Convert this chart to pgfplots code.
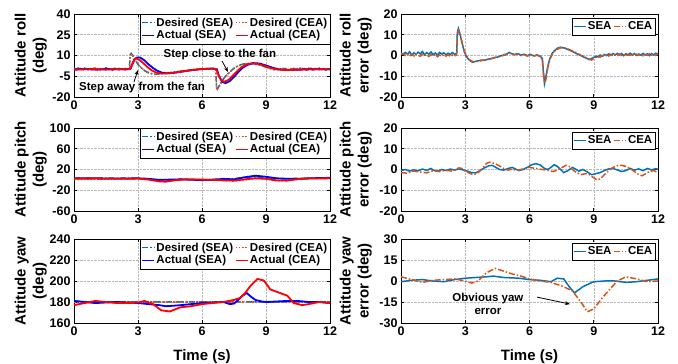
\documentclass[border=0pt]{standalone}
\usepackage{fontspec}
\setmainfont{Liberation Sans}
\usepackage{pgfplots}
\pgfplotsset{compat=1.18}
\usetikzlibrary{arrows.meta}
\definecolor{mblue}{RGB}{0,114,189}
\definecolor{morange}{RGB}{217,83,25}
\newcommand{\tfont}{\bfseries\fontsize{12.5}{14}\selectfont}
\newcommand{\lfont}{\bfseries\fontsize{15}{18}\selectfont}
\newcommand{\gfont}{\bfseries\fontsize{11.5}{13}\selectfont}
\tikzset{
  dsea/.style={draw=mblue, line width=1.5pt, dash pattern=on 6pt off 2pt on 1.5pt off 2pt},
  dcea/.style={draw=morange, line width=1.5pt, dash pattern=on 1.5pt off 1.8pt},
  asea/.style={draw=blue, line width=1.8pt},
  acea/.style={draw=red, line width=1.8pt},
  esea/.style={draw=mblue, line width=1.5pt},
  ecea/.style={draw=morange, line width=1.5pt, dash pattern=on 6pt off 2pt on 1.5pt off 2pt},
}
\pgfplotsset{
  base/.style={
    scale only axis, xmin=0, xmax=12, xtick={0,3,6,9,12},
    grid=major, grid style={densely dotted, gray!55, line width=0.5pt},
    axis line style={black, line width=0.8pt},
    tick style={black, line width=0.6pt}, major tick length=3pt,
    tick label style={font=\tfont},
    /pgf/number format/assume math mode=true,
    ylabel style={font=\lfont, align=center, inner sep=0pt, anchor=south},
    legend style={font=\gfont, draw=black, inner xsep=1pt, inner ysep=1.5pt,
      row sep=-1pt, column sep=0pt, cells={anchor=west},
      nodes={inner xsep=1.5pt}},
    legend image code/.code={\draw[#1] (0pt,0pt) -- (12pt,0pt);},
  },
  lcol/.style={base, width=256pt, ylabel style={at={(axis description cs:-0.1055,0.5)}},
    legend columns=2, legend style={at={(1,1)}, anchor=north east}},
  rcol/.style={base, width=257pt, ylabel style={at={(axis description cs:-0.113,0.5)}},
    legend columns=2, legend style={at={(1,1)}, anchor=north east, xshift=-3pt, yshift=-4pt}},
}
\begin{document}
\begin{tikzpicture}
\useasboundingbox (0,0) rectangle (678pt,364pt);
% ---------------- Roll ----------------
\begin{axis}[lcol, at={(74pt,267pt)}, anchor=south west, height=83pt,
  ymin=-20, ymax=40, ytick={-20,-5,10,25,40}, ylabel={Attitude roll\\(deg)}]
\addplot[dsea] coordinates {(0,0.8)(0.1,-0.3)(0.2,1.0)(0.3,0.2)(0.4,-0.5)(0.5,0.9)(0.6,0.1)(0.7,-0.6)(0.8,0.7)(0.9,1.2)(1.0,-0.2)(1.1,0.5)(1.2,-0.8)(1.3,0.6)(1.4,0.0)(1.5,1.1)(1.6,-0.4)(1.7,0.3)(1.8,-0.7)(1.9,0.8)(2.0,0.2)(2.1,-0.5)(2.2,0.9)(2.3,-0.1)(2.4,0.6)(2.5,-0.4)(2.6,0.3)(2.63,10.5)(2.68,11.5)(2.75,10)(2.8,8.5)(2.9,6)(3.0,3.5)(3.1,1.8)(3.2,0.5)(3.3,-0.8)(3.4,-1.8)(3.5,-2.5)(3.6,-3.0)(3.7,-3.5)(3.8,-3.6)(3.9,-3.4)(4.0,-3.3)(4.2,-3.0)(4.4,-2.6)(4.6,-2.3)(4.8,-1.9)(5.0,-1.4)(5.2,-1.0)(5.4,-0.6)(5.6,-0.3)(5.8,0.0)(6.0,0.3)(6.2,0.4)(6.4,0.5)(6.6,0.4)(6.65,0)(6.68,-13.5)(6.72,-14)(6.8,-12)(6.9,-9.5)(7.0,-7)(7.1,-5)(7.2,-3.5)(7.3,-2)(7.4,-0.5)(7.5,0.8)(7.6,1.8)(7.7,2.6)(7.8,3.2)(7.9,3.7)(8.0,4.0)(8.2,4.3)(8.4,4.2)(8.6,3.6)(8.8,2.6)(9.0,1.5)(9.2,0.5)(9.4,-0.3)(9.5,0.5)(9.6,-0.8)(9.7,0.3)(9.8,-0.5)(9.9,0.6)(10.0,-0.3)(10.1,0.4)(10.2,-0.6)(10.3,0.7)(10.4,0.0)(10.5,-0.7)(10.6,0.9)(10.7,-0.2)(10.8,0.5)(10.9,-0.6)(11.0,0.8)(11.1,0.1)(11.2,-0.5)(11.3,0.6)(11.4,-0.3)(11.5,0.9)(11.6,-0.2)(11.7,0.4)(11.8,-0.6)(11.9,0.5)(12.0,0.2)};
\addlegendentry{Desired (SEA)}
\addplot[dcea] coordinates {(0,0.3)(0.1,0.9)(0.2,-0.4)(0.3,0.6)(0.4,0.1)(0.5,-0.7)(0.6,0.8)(0.7,0.3)(0.8,-0.4)(0.9,0.5)(1.0,0.9)(1.1,-0.6)(1.2,0.4)(1.3,-0.2)(1.4,0.8)(1.5,-0.5)(1.6,0.6)(1.7,-0.3)(1.8,0.7)(1.9,-0.6)(2.0,0.5)(2.1,0.8)(2.2,-0.3)(2.3,0.6)(2.4,-0.5)(2.5,0.4)(2.6,0.1)(2.63,9.8)(2.68,11)(2.75,10.2)(2.8,8.8)(2.9,6.2)(3.0,3.8)(3.1,2)(3.2,0.6)(3.3,-0.7)(3.4,-1.7)(3.5,-2.4)(3.6,-3.0)(3.7,-3.3)(3.8,-3.5)(3.9,-3.5)(4.0,-3.2)(4.2,-2.9)(4.4,-2.5)(4.6,-2.1)(4.8,-1.7)(5.0,-1.3)(5.2,-0.9)(5.4,-0.5)(5.6,-0.2)(5.8,0.1)(6.0,0.3)(6.2,0.5)(6.4,0.4)(6.6,0.5)(6.65,0.2)(6.68,-12.5)(6.72,-14.5)(6.8,-12.5)(6.9,-9.8)(7.0,-7.3)(7.1,-5.2)(7.2,-3.6)(7.3,-2.1)(7.4,-0.7)(7.5,0.6)(7.6,1.7)(7.7,2.5)(7.8,3.1)(7.9,3.6)(8.0,3.9)(8.2,4.2)(8.4,4.1)(8.6,3.7)(8.8,2.8)(9.0,1.7)(9.2,0.7)(9.4,0.1)(9.5,-0.6)(9.6,0.6)(9.7,-0.4)(9.8,0.7)(9.9,-0.5)(10.0,0.4)(10.1,-0.7)(10.2,0.5)(10.3,-0.2)(10.4,0.8)(10.5,0.2)(10.6,-0.5)(10.7,0.7)(10.8,-0.6)(10.9,0.4)(11.0,-0.3)(11.1,0.8)(11.2,0.2)(11.3,-0.6)(11.4,0.6)(11.5,-0.3)(11.6,0.7)(11.7,-0.5)(11.8,0.5)(11.9,-0.2)(12.0,0.4)};
\addlegendentry{Desired (CEA)}
\addplot[asea] coordinates {(0,0)(0.5,0.3)(1,-0.2)(1.5,0.2)(2,0)(2.5,0.1)(2.65,0.5)(2.75,4)(2.85,7.5)(2.95,8.5)(3.1,8.5)(3.3,6.5)(3.5,3.5)(3.7,1)(3.9,-1)(4.1,-2.3)(4.3,-2.8)(4.6,-2.7)(5.0,-1.8)(5.5,-0.6)(6.0,0.2)(6.5,0.6)(6.7,0)(6.8,-5)(6.95,-9)(7.1,-10)(7.3,-8.5)(7.5,-5.5)(7.7,-2)(7.9,1)(8.1,3)(8.4,4.5)(8.7,4.2)(9.0,2.8)(9.3,1.2)(9.6,0)(10,-0.5)(10.5,-0.2)(11,0.2)(11.5,0)(12,0.1)};
\addlegendentry{Actual (SEA)}
\addplot[acea] coordinates {(0,-0.3)(0.5,0)(1,0.2)(1.5,-0.2)(2,0.1)(2.5,0)(2.65,0.4)(2.72,3.5)(2.82,7)(2.92,7.8)(3.05,7)(3.25,4.5)(3.45,1.5)(3.65,-0.8)(3.85,-2.3)(4.1,-3)(4.4,-2.9)(4.8,-2.2)(5.2,-1.3)(5.6,-0.4)(6.0,0.2)(6.5,0.5)(6.68,0)(6.78,-4.5)(6.9,-8)(7.05,-9)(7.25,-7.5)(7.45,-4.5)(7.65,-1.3)(7.85,1.5)(8.05,3.3)(8.3,4.3)(8.6,4.0)(8.9,2.6)(9.2,1.0)(9.5,0)(9.9,-0.5)(10.5,-0.3)(11,0)(11.5,0.1)(12,0)};
\addlegendentry{Actual (CEA)}
\node[font=\gfont, inner sep=0pt] at (axis cs:6.84,10.6) {Step close to the fan};
\draw[-{Stealth[length=5pt,width=4pt]}, line width=0.8pt] (axis cs:6.94,6) -- (axis cs:7.22,-1.9);
\node[font=\gfont, inner sep=0pt] at (axis cs:3.19,-13.5) {Step away from the fan};
\draw[-{Stealth[length=5pt,width=4pt]}, line width=0.8pt] (axis cs:2.81,-9.2) -- (axis cs:3.0,-0.5);
\end{axis}
\begin{axis}[rcol, at={(401pt,267pt)}, anchor=south west, height=83pt,
  ymin=-20, ymax=20, ytick={-20,-10,0,10,20}, ylabel={Attitude roll\\error (deg)}]
\addplot[esea] coordinates {(0,1.2)(0.1,0.4)(0.2,1.5)(0.3,0.6)(0.4,1.8)(0.5,0.2)(0.6,1.3)(0.7,0.5)(0.8,1.6)(0.9,0.8)(1.0,1.9)(1.1,0.3)(1.2,1.4)(1.3,0.6)(1.4,1.7)(1.5,0.4)(1.6,1.2)(1.7,0.2)(1.8,1.5)(1.9,0.7)(2.0,1.3)(2.1,0.3)(2.2,1.1)(2.3,0.5)(2.4,1.4)(2.5,0.6)(2.6,0.9)(2.63,11)(2.68,13)(2.75,10.5)(2.85,6)(2.95,2)(3.05,-0.5)(3.15,-1.8)(3.25,-2.7)(3.35,-3.3)(3.45,-2.9)(3.6,-2.6)(3.75,-2.2)(3.9,-2.4)(4.05,-1.8)(4.2,-1.6)(4.35,-1.0)(4.5,-0.8)(4.65,-0.2)(4.8,0.3)(4.95,0.8)(5.05,1.5)(5.15,0.9)(5.3,0.5)(5.45,0.9)(5.6,0.2)(5.75,0.6)(5.9,0.0)(6.05,0.5)(6.2,-0.2)(6.35,0.3)(6.5,-0.3)(6.6,-1.5)(6.65,-8)(6.7,-13.5)(6.75,-11)(6.85,-5.5)(6.95,-1.5)(7.05,0.8)(7.15,2.2)(7.3,3.5)(7.45,4)(7.6,3.6)(7.75,3.1)(7.9,2.4)(8.05,1.7)(8.2,0.9)(8.35,0.2)(8.5,-0.6)(8.65,-1.3)(8.8,-2.0)(8.9,-1.4)(9.0,-1.0)(9.1,-0.3)(9.2,-0.7)(9.3,0.2)(9.4,-0.4)(9.5,0.5)(9.6,0.0)(9.7,0.8)(9.8,0.1)(9.9,0.9)(10.0,0.2)(10.1,1.0)(10.2,0.3)(10.3,0.9)(10.4,-0.1)(10.5,0.8)(10.6,0.2)(10.7,1.1)(10.8,0.3)(10.9,0.9)(11.0,0.0)(11.1,0.7)(11.2,0.1)(11.3,1.0)(11.4,0.2)(11.5,0.8)(11.6,-0.1)(11.7,0.9)(11.8,0.3)(11.9,1.1)(12.0,0.5)};
\addlegendentry{SEA}
\addplot[ecea] coordinates {(0,0.5)(0.1,1.0)(0.2,0.0)(0.3,0.8)(0.4,-0.3)(0.5,0.6)(0.6,-0.2)(0.7,0.9)(0.8,0.1)(0.9,-0.4)(1.0,0.7)(1.1,-0.1)(1.2,0.5)(1.3,-0.5)(1.4,0.4)(1.5,-0.2)(1.6,0.6)(1.7,-0.6)(1.8,0.3)(1.9,-0.4)(2.0,0.5)(2.1,-0.3)(2.2,0.4)(2.3,-0.5)(2.4,0.2)(2.5,-0.2)(2.6,0.3)(2.63,9.5)(2.68,12)(2.75,10.8)(2.85,6.5)(2.95,2.5)(3.05,0)(3.15,-1.5)(3.25,-2.4)(3.35,-2.9)(3.45,-3.1)(3.6,-2.8)(3.75,-2.5)(3.9,-2.1)(4.05,-2.0)(4.2,-1.5)(4.35,-1.2)(4.5,-0.6)(4.65,-0.4)(4.8,0.1)(4.95,0.5)(5.05,0.9)(5.15,1.1)(5.3,0.3)(5.45,0.7)(5.6,0.0)(5.75,0.4)(5.9,-0.3)(6.05,0.3)(6.2,-0.4)(6.35,0.1)(6.5,-0.5)(6.6,-2)(6.65,-9)(6.7,-13)(6.75,-12.5)(6.85,-6)(6.95,-2)(7.05,0.3)(7.15,1.8)(7.3,3.0)(7.45,3.7)(7.6,3.8)(7.75,3.3)(7.9,2.7)(8.05,2.0)(8.2,1.2)(8.35,0.4)(8.5,-0.4)(8.65,-1.0)(8.8,-1.8)(8.9,-2.2)(9.0,-1.5)(9.1,-1.0)(9.2,-0.4)(9.3,-0.8)(9.4,0.0)(9.5,-0.5)(9.6,0.4)(9.7,-0.3)(9.8,0.6)(9.9,-0.2)(10.0,0.5)(10.1,-0.1)(10.2,0.8)(10.3,0.0)(10.4,0.6)(10.5,-0.3)(10.6,0.7)(10.7,0.1)(10.8,0.9)(10.9,-0.1)(11.0,0.6)(11.1,0.2)(11.2,0.8)(11.3,-0.2)(11.4,0.5)(11.5,0.1)(11.6,0.9)(11.7,0.2)(11.8,0.6)(11.9,0.0)(12.0,0.7)};
\addlegendentry{CEA}
\end{axis}
% ---------------- Pitch ----------------
\begin{axis}[lcol, at={(74pt,153pt)}, anchor=south west, height=83pt,
  ymin=-60, ymax=100, ytick={-60,-20,20,60,100}, ylabel={Attitude pitch\\(deg)}]
\addplot[dsea] coordinates {(0,3)(0.5,3.5)(1,2.8)(1.5,3.4)(2,3)(2.5,3.3)(3,2.8)(3.5,2)(4,-1)(4.3,-1)(4.8,1)(5.5,1)(6,0)(6.5,1)(7,2)(7.5,2)(8,5)(8.5,6)(9,4)(9.5,3)(10,2)(10.5,3)(11,3)(11.5,3.5)(12,4)};
\addlegendentry{Desired (SEA)}
\addplot[dcea] coordinates {(0,1)(1,1.5)(2,2)(3,2.5)(3.5,1)(4,-2)(4.5,-1)(5,1)(6,1)(7,-1)(7.5,-2)(8,0)(8.5,3)(9,2)(9.5,-2)(10,-1)(10.5,2)(11,3)(12,3)};
\addlegendentry{Desired (CEA)}
\addplot[asea] coordinates {(0,3)(1,3)(2,2.5)(3,3)(3.5,2)(4,0)(4.5,0.5)(5,1)(6,-0.5)(6.5,0)(7,2)(7.5,1)(8,5)(8.5,8)(9,6)(9.5,3)(10,2)(10.5,2)(11,3)(12,4)};
\addlegendentry{Actual (SEA)}
\addplot[acea] coordinates {(0,2)(1,2.5)(2,2)(3,2.5)(3.5,0.5)(4,-3)(4.3,-3.5)(4.7,-1)(5.2,1)(6,0.5)(6.5,0)(7,-1)(7.5,-1.5)(8,1)(8.5,3)(9,2)(9.5,-1)(10,-1.5)(10.5,1.5)(11,2.5)(12,3)};
\addlegendentry{Actual (CEA)}
\end{axis}
\begin{axis}[rcol, at={(401pt,153pt)}, anchor=south west, height=83pt,
  ymin=-20, ymax=20, ytick={-20,-10,0,10,20}, ylabel={Attitude pitch\\error (deg)}]
\addplot[esea] coordinates {(0,-0.5)(0.2,0)(0.4,-0.8)(0.6,-0.2)(0.8,-0.6)(1.0,0.2)(1.2,-0.4)(1.4,0.5)(1.5,-0.3)(1.7,-0.8)(1.9,0)(2.1,-0.5)(2.3,0.2)(2.5,-0.3)(2.7,0.3)(2.9,-0.2)(3.1,-0.8)(3.3,-1.5)(3.5,-1.6)(3.7,-0.5)(3.9,0.8)(4.1,1.8)(4.25,2.0)(4.4,1.2)(4.6,0)(4.8,-0.3)(5.0,0.5)(5.2,1.0)(5.35,0.2)(5.5,-0.5)(5.7,0)(5.9,1)(6.1,2.3)(6.3,2.8)(6.5,2.2)(6.7,0.5)(6.85,0)(7.0,1)(7.15,2.3)(7.3,1.5)(7.45,0)(7.6,-1.5)(7.8,-0.5)(8.0,1)(8.15,0.2)(8.3,-0.8)(8.5,0)(8.7,-1.2)(8.9,-2.5)(9.1,-2)(9.3,-1.5)(9.5,-0.5)(9.7,0.3)(9.9,0.5)(10.1,-0.2)(10.3,-1)(10.5,-0.5)(10.7,0.5)(10.9,-0.3)(11.1,0.3)(11.3,-0.6)(11.5,0.5)(11.7,-0.2)(11.9,0.4)(12,0)};
\addlegendentry{SEA}
\addplot[ecea] coordinates {(0,-1.5)(0.3,-1.8)(0.6,-0.8)(0.9,-1.2)(1.2,-1.6)(1.5,-0.6)(1.8,-1.0)(2.1,-0.4)(2.4,-0.8)(2.7,0.8)(2.85,0.5)(3.0,-0.8)(3.2,-1.8)(3.4,-2.5)(3.6,-1.5)(3.8,0.5)(4.0,3)(4.15,3.5)(4.35,3)(4.55,2)(4.8,0.5)(5.0,-0.3)(5.2,0.2)(5.4,-0.5)(5.7,0.3)(6.0,1.0)(6.3,0.5)(6.6,0)(6.9,-0.5)(7.1,-1)(7.3,-0.3)(7.5,0.8)(7.7,2)(7.85,1.5)(8.0,0)(8.2,-1.5)(8.4,-2.5)(8.6,-2)(8.8,-2.5)(9.0,-4)(9.15,-5)(9.3,-4.5)(9.5,-2.5)(9.7,-0.5)(9.9,1)(10.1,1.8)(10.3,2)(10.5,1.5)(10.7,0.5)(10.9,-1)(11.1,-2.5)(11.25,-3)(11.4,-2.2)(11.6,-1)(11.8,-0.5)(12,-1.5)};
\addlegendentry{CEA}
\end{axis}
% ---------------- Yaw ----------------
\begin{axis}[lcol, at={(74pt,41pt)}, anchor=south west, height=84pt,
  ymin=160, ymax=240, ytick={160,180,200,220,240}, ylabel={Attitude yaw\\(deg)},
  xlabel={Time (s)}, xlabel style={font=\lfont, inner sep=0pt, at={(axis description cs:0.5,-0.445)}, anchor=base}]
\addplot[dsea] coordinates {(0,181)(0.5,180.3)(1,180)(2,180.2)(3,180)(4,180.1)(5,180)(6,180.2)(7,180)(8,180.1)(9,180)(10,180.2)(11,180)(12,180.1)};
\addlegendentry{Desired (SEA)}
\addplot[dcea] coordinates {(0,180)(2,180)(4,180)(6,180)(8,180)(10,180)(12,180)};
\addlegendentry{Desired (CEA)}
\addplot[asea] coordinates {(0,181)(0.5,180)(1,179)(1.5,179.5)(2,180)(2.5,179.5)(3,179)(3.5,178)(4,177)(4.3,176)(4.7,176.5)(5,177)(5.5,178)(6,179)(6.5,179.5)(7,180)(7.3,178)(7.5,178.5)(7.7,182)(7.9,186)(8.1,188.5)(8.3,185)(8.5,182)(8.8,180.5)(9,180)(9.5,180.5)(10,181)(10.5,181)(11,180)(11.5,180)(12,179)};
\addlegendentry{Actual (SEA)}
\addplot[acea] coordinates {(0,177)(0.5,179)(1,181)(1.5,180)(2,179)(2.5,179)(3,179.5)(3.3,181)(3.7,178)(3.9,175)(4.1,172)(4.5,171)(4.8,173.5)(5,175)(5.5,176)(6,178)(6.5,179)(7,180)(7.5,182)(7.8,184)(8,188)(8.3,196)(8.6,202)(8.9,200.5)(9.2,192)(9.6,189)(10,186)(10.3,179)(10.7,177)(11,178)(11.5,180)(12,179)};
\addlegendentry{Actual (CEA)}
\end{axis}
\begin{axis}[rcol, at={(401pt,41pt)}, anchor=south west, height=84pt,
  ymin=-30, ymax=30, ytick={-30,-15,0,15,30}, ylabel={Attitude yaw\\error (deg)},
  xlabel={Time (s)}, xlabel style={font=\lfont, inner sep=0pt, at={(axis description cs:0.5,-0.445)}, anchor=base}]
\addplot[esea] coordinates {(0,-0.5)(0.5,0.5)(1,1)(1.5,0)(2,-0.5)(2.5,1)(3,2)(3.5,2.5)(4,3)(4.3,3.5)(4.8,2.5)(5.5,2)(6,1)(6.5,0.5)(7,-0.5)(7.3,2)(7.6,1.5)(7.85,-4)(8.1,-8.5)(8.5,-4)(9,-0.5)(9.5,0)(10,0)(10.5,-1)(11,-0.5)(11.5,0.5)(12,1.5)};
\addlegendentry{SEA}
\addplot[ecea] coordinates {(0,3)(0.5,1)(1,-1)(1.5,0.5)(2,1)(2.5,1.5)(3,0)(3.3,-1.5)(3.6,0)(4,6)(4.4,9)(4.8,7)(5.2,5)(5.6,3.5)(6,1.5)(6.5,0)(7,-1)(7.5,-3.5)(8,-7)(8.4,-15)(8.7,-22)(9,-20)(9.4,-12)(9.8,-5)(10.1,0)(10.5,3)(11,1.5)(11.5,-0.5)(12,0)};
\addlegendentry{CEA}
\node[font=\gfont, align=center, inner sep=0pt] at (axis cs:4.06,-16.5) {Obvious yaw\\error};
\draw[-{Stealth[length=5pt,width=4pt]}, line width=0.8pt] (axis cs:6.35,-11.5) -- (axis cs:7.89,-16.5);
\end{axis}
\end{tikzpicture}
\end{document}
